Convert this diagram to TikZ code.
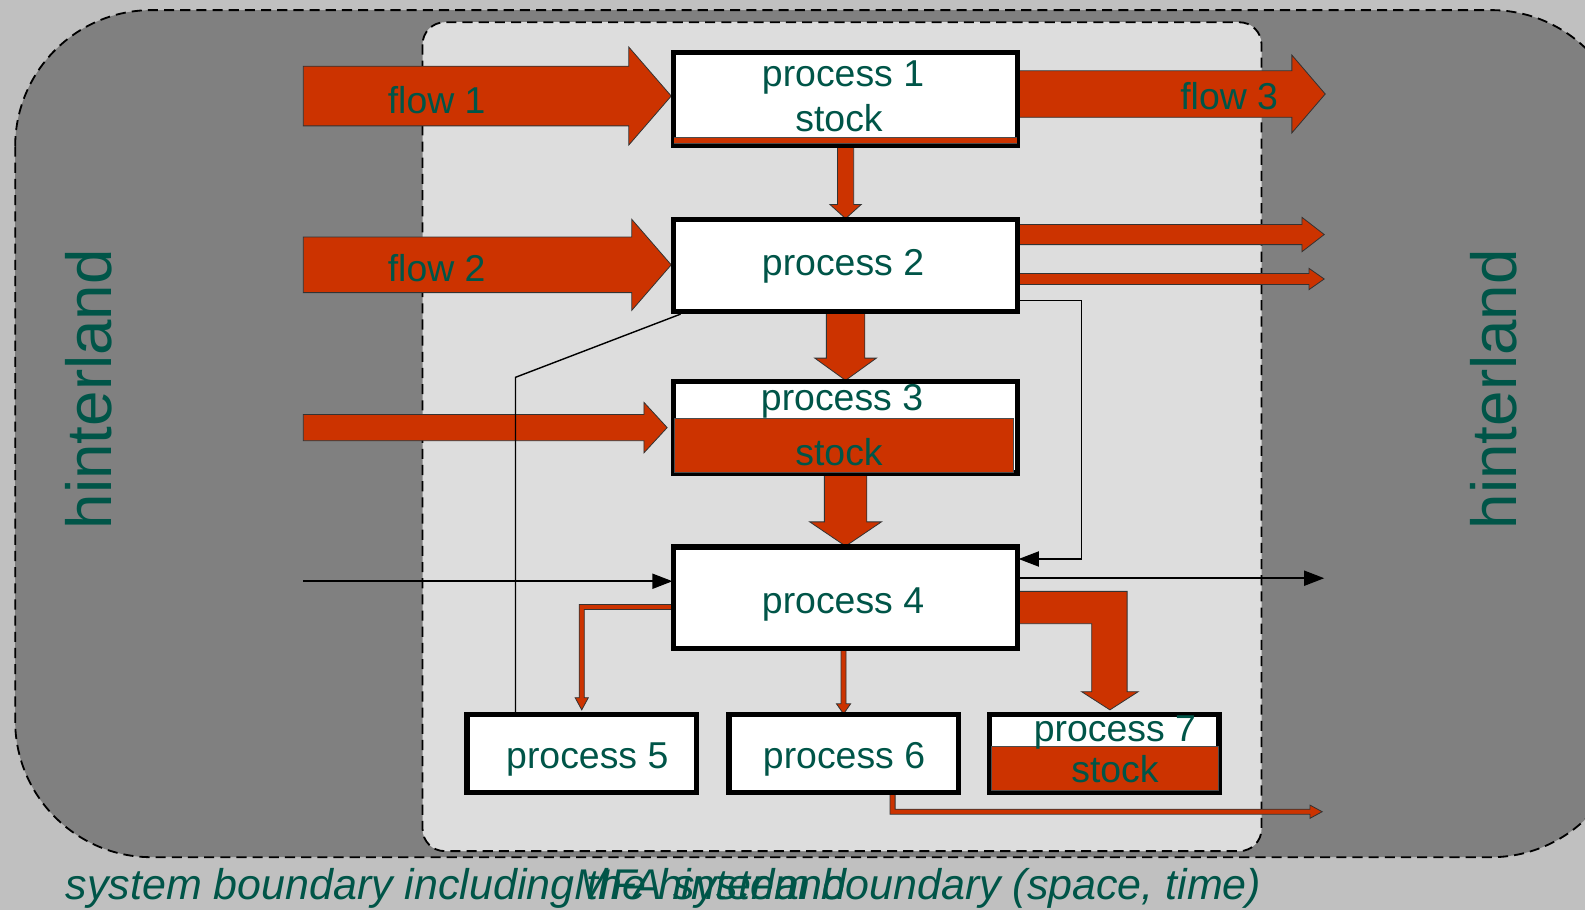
\documentclass[tikz,border=0pt]{standalone}
\usepackage{fontspec}
\setmainfont{Liberation Sans}
\usetikzlibrary{calc,arrows.meta}

\definecolor{bggray}{RGB}{192,192,192}
\definecolor{hintergray}{RGB}{128,128,128}
\definecolor{sysgray}{RGB}{221,221,221}
\definecolor{flowred}{RGB}{204,51,0}
\definecolor{labelteal}{RGB}{0,85,72}

% straight block arrow pointing right: tail, tip, body half-width, head half-width, head length
\newcommand\rightblock[5]{%
  \draw[blockarrow] let \p1=(#1), \p2=(#2) in
    (\x1,\y2+#3pt) -- (\x2-#5pt,\y2+#3pt) -- (\x2-#5pt,\y2+#4pt) -- (\x2,\y2)
    -- (\x2-#5pt,\y2-#4pt) -- (\x2-#5pt,\y2-#3pt) -- (\x1,\y2-#3pt) -- cycle;}
% straight block arrow pointing down: tail, tip, body half-width, head half-width, head length
\newcommand\downblock[5]{%
  \draw[blockarrow] let \p1=(#1), \p2=(#2) in
    (\x2+#3pt,\y1) -- (\x2+#3pt,\y2+#5pt) -- (\x2+#4pt,\y2+#5pt) -- (\x2,\y2)
    -- (\x2-#4pt,\y2+#5pt) -- (\x2-#3pt,\y2+#5pt) -- (\x2-#3pt,\y1) -- cycle;}

\tikzset{
  boundary/.style={draw=black, line width=1.8pt, dash pattern=on 10pt off 6pt},
  procbox/.style={draw=black, line width=3.5pt, fill=white, inner sep=0pt},
  blockarrow/.style={fill=flowred, draw=black!80, line width=0.8pt, line join=miter},
  stockfill/.style={fill=flowred, draw=black!70, line width=0.6pt},
  infoline/.style={draw=black, line width=1.6pt},
  infoarrow/.style={infoline, -{Triangle[length=20pt,width=15pt]}},
  boxtext/.style={text=labelteal, inner sep=0pt},
  bigtext/.style={text=labelteal, font=\fontsize{63}{63}\selectfont, inner sep=0pt},
  captext/.style={text=labelteal, font=\fontsize{42.5}{42.5}\selectfont\itshape, inner sep=0pt, anchor=base west}
}

\begin{document}
\begin{tikzpicture}[x=1pt, y=-1pt, font=\fontsize{37}{44}\selectfont]
  \useasboundingbox (0,0) rectangle (1568,900);
  \clip (0,0) rectangle (1568,900);
  \fill[bggray] (0,0) rectangle (1568,900);

  % system boundary including the hinterland, and the MFA system boundary
  \draw[boundary, fill=hintergray, rounded corners=135pt] (15,10) rectangle (1610,848);
  \draw[boundary, fill=sysgray, rounded corners=22pt] (418,22) rectangle (1248,842);

  % hinterland labels and boundary captions
  \node[bigtext, rotate=90] (hleft) at (88,385) {hinterland};
  \node[bigtext, rotate=90] (hright) at (1478,385) {hinterland};
  \node[captext] (capa) at (65,890) {system boundary including the hinterland};
  \node[captext] (capb) at (568,890) {MFA system boundary (space, time)};

  % processes
  \node[procbox, minimum width=339pt, minimum height=90pt] (p1) at (836.5,98) {};
  \node[procbox, minimum width=339pt, minimum height=89pt] (p2) at (836.5,262.5) {};
  \node[procbox, minimum width=339pt, minimum height=89pt] (p3) at (836.5,422.5) {};
  \node[procbox, minimum width=339pt, minimum height=99pt] (p4) at (836.5,591.5) {};
  \node[procbox, minimum width=225pt, minimum height=75pt] (p5) at (575.5,745.5) {};
  \node[procbox, minimum width=225pt, minimum height=75pt] (p6) at (834.5,745.5) {};
  \node[procbox, minimum width=225pt, minimum height=75pt] (p7) at (1092.5,745.5) {};

  % free ends of flows crossing the boundary
  \coordinate (f1tail) at (300,95);
  \coordinate (f1tip) at (664,95);
  \coordinate (f2tail) at (300,262);
  \coordinate (f2tip) at (664,262);
  \coordinate (f3tip) at (1311,93);
  \coordinate (o2atip) at (1310,232);
  \coordinate (o2btip) at (1310,276);
  \coordinate (i3tail) at (300,423);
  \coordinate (i3tip) at (660,423);
  \coordinate (i4tail) at (300,575);
  \coordinate (o4tip) at (1310,572);
  \coordinate (o6tip) at (1308,803);
  \coordinate (fbturn) at (1070,297);

  % material flows
  \rightblock{f1tail}{f1tip}{29.5}{48.5}{42}
  \rightblock{f2tail}{f2tip}{27.5}{45}{39}
  \rightblock{p1.east}{f3tip}{23}{38.5}{33}
  \rightblock{p2.east}{o2atip}{10}{17}{22}
  \rightblock{p2.east}{o2btip}{5.5}{10.5}{15}
  \rightblock{i3tail}{i3tip}{13}{25}{23}
  \downblock{p1.south}{p2.north}{8}{15.5}{14}
  \downblock{p2.south}{p3.north}{19}{30.5}{22}
  \downblock{p3.south}{p4.north}{21}{35.5}{24}
  \downblock{p4.south}{p6.north}{2.5}{7}{10}

  % process 4 to process 7
  \draw[blockarrow] let \p1=(p4.east), \p2=($(p7.north)+(5.5,-4)$) in
    (\x1,\y1+6.5pt) -- (\x2+17pt,\y1+6.5pt) -- (\x2+17pt,\y2+18pt) -- (\x2+28pt,\y2+18pt)
    -- (\x2,\y2) -- (\x2-28pt,\y2+18pt) -- (\x2-18pt,\y2+18pt) -- (\x2-18pt,\y1-25.5pt)
    -- (\x1,\y1-25.5pt) -- cycle;
  % process 4 to process 5
  \draw[blockarrow] let \p1=(p4.west), \p2=($(p5.north)+(0,-4)$) in
    (\x1,\y1-6.5pt) -- (\x2-2.5pt,\y1-6.5pt) -- (\x2-2.5pt,\y2+12pt) -- (\x2-6.5pt,\y2+12pt)
    -- (\x2,\y2) -- (\x2+6.5pt,\y2+12pt) -- (\x2+2.5pt,\y2+12pt) -- (\x2+2.5pt,\y1-11.5pt)
    -- (\x1,\y1-11.5pt) -- cycle;
  % process 6 out of the system
  \draw[blockarrow] let \p1=($(p6.south)+(48.5,0)$), \p2=(o6tip) in
    (\x1-2.5pt,\y1) -- (\x1-2.5pt,\y2-2.5pt) -- (\x2-12pt,\y2-2.5pt) -- (\x2-12pt,\y2-6.5pt)
    -- (\x2,\y2) -- (\x2-12pt,\y2+6.5pt) -- (\x2-12pt,\y2+2.5pt) -- (\x1+2.5pt,\y2+2.5pt)
    -- (\x1+2.5pt,\y1) -- cycle;

  % information / minor flows
  \draw[infoarrow] (i4tail) -- (i4tail -| p4.west);
  \draw[infoarrow] (p4.east |- o4tip) -- (o4tip);
  \draw[infoarrow, line width=1.3pt] (p2.east |- fbturn) -- (fbturn) |- ($(p4.east)+(0,-38.5)$);
  \draw[infoline, line width=1.4pt] ($(p5.north)+(-65.5,0)$) -- ++(0,-333) -- ($(p2.south west)+(8,2)$);

  % redraw the process frames on top of the flows
  \foreach \b in {p1,p2,p3,p4,p5,p6,p7} {
    \draw[black, line width=3.5pt] (\b.south west) rectangle (\b.north east);
  }

  % stocks
  \fill[stockfill] ($(p1.south west)+(2,-9)$) rectangle ($(p1.south east)+(-2,-3)$);
  \fill[stockfill] ($(p3.south west)+(2,-2)$) rectangle ($(p3.south east)+(-5,-55)$);
  \fill[stockfill] ($(p7.south west)+(2,-3)$) rectangle ($(p7.south east)+(-2,-46)$);
  \fill[flowred] ($(p1.south west)+(2,-8.5)$) rectangle ($(p1.south east)+(-2,-3.5)$);

  % labels
  \node[boxtext] (t1a) at (834,77) {process 1};
  \node[boxtext] (t1b) at (830,117) {stock};
  \node[boxtext] (t2) at (834,263) {process 2};
  \node[boxtext] (t3a) at (833,397) {process 3};
  \node[boxtext] (t3b) at (830,447) {stock};
  \node[boxtext] (t4) at (834,598) {process 4};
  \node[boxtext] (t5) at (581,751) {process 5};
  \node[boxtext] (t6) at (835,751) {process 6};
  \node[boxtext] (t7a) at (1103,725) {process 7};
  \node[boxtext] (t7b) at (1103,761) {stock};
  \node[boxtext] (lf1) at (432,99) {flow 1};
  \node[boxtext] (lf2) at (432,265) {flow 2};
  \node[boxtext] (lf3) at (1216,95) {flow 3};
\end{tikzpicture}
\end{document}
